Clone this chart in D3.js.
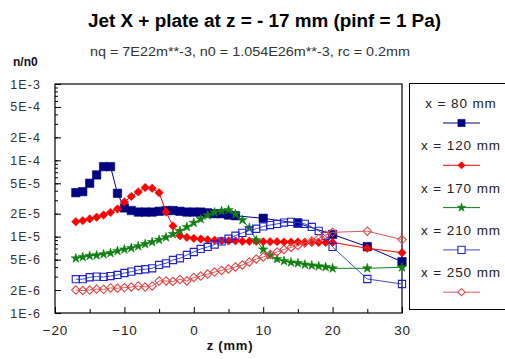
<!DOCTYPE html>
<html><head><meta charset="utf-8">
<script src="https://cdn.jsdelivr.net/npm/d3@7"></script>
<style>
html,body{margin:0;padding:0;background:#fff;}
text{font-family:"Liberation Sans",Arial,sans-serif;}
</style></head>
<body><svg id="c" width="505" height="359"></svg>
<script>
const titleText = "Jet X + plate at z = - 17 mm (pinf = 1 Pa)";
const subtitleText = "nq = 7E22m**-3, n0 = 1.054E26m**-3, rc = 0.2mm";
const yAxisTitle = "n/n0";
const xAxisTitle = "z (mm)";
const seriesNames = ["x = 80 mm","x = 120 mm","x = 170 mm","x = 210 mm","x = 250 mm"];
const yTickValues = [1e-3,5e-4,2e-4,1e-4,5e-5,2e-5,1e-5,5e-6,2e-6,1e-6];
const yTickLabels = ["1E-3","5E-4","2E-4","1E-4","5E-5","2E-5","1E-5","5E-6","2E-6","1E-6"];
const xTickValues = [-20,-10,0,10,20,30];

const zDense = [-17,-16,-15,-14,-13,-12,-11,-10,-9,-8,-7,-6,-5,-4,-3,-2,-1,0,1,2,3,4,5,6,7,8,9,10,11,12,13,14,15,16,17,18,19,20,25,30];
const z80 = [-17,-16,-15,-14,-13,-12,-11,-10,-9,-8,-7,-6,-5,-4,-3,-2,-1,0,1,2,3,4,5,6,10,15,20,25,30];

const n80 = [3.77e-5,3.89e-5,5.01e-5,6.44e-5,8.27e-5,8.27e-5,3.7e-5,2.38e-5,2.2e-5,2.1e-5,2.1e-5,2.1e-5,2.15e-5,2.2e-5,2.2e-5,2.15e-5,2.1e-5,2.1e-5,2.1e-5,2.05e-5,2.0e-5,2.0e-5,1.92e-5,1.88e-5,1.74e-5,1.5e-5,1.07e-5,7.4e-6,4.7e-6];
const n120 = [1.57e-5,1.62e-5,1.71e-5,1.80e-5,1.92e-5,2.08e-5,2.30e-5,2.85e-5,3.37e-5,3.86e-5,4.40e-5,4.30e-5,3.77e-5,2.10e-5,1.38e-5,1.03e-5,9.8e-6,9.5e-6,9.3e-6,9.1e-6,9.0e-6,8.8e-6,8.8e-6,8.8e-6,8.7e-6,8.7e-6,8.7e-6,8.6e-6,8.6e-6,8.6e-6,8.5e-6,8.5e-6,8.5e-6,8.5e-6,8.4e-6,8.4e-6,8.4e-6,8.4e-6,7.05e-6,6.17e-6];
const n170 = [5.2e-6,5.4e-6,5.6e-6,5.7e-6,5.9e-6,6.1e-6,6.5e-6,6.8e-6,7.1e-6,7.5e-6,8.0e-6,8.5e-6,9.1e-6,9.8e-6,1.08e-5,1.19e-5,1.34e-5,1.52e-5,1.7e-5,1.9e-5,2.08e-5,2.17e-5,2.24e-5,1.98e-5,1.65e-5,1.3e-5,9.0e-6,6.8e-6,5.7e-6,5.1e-6,4.8e-6,4.6e-6,4.5e-6,4.3e-6,4.2e-6,4.1e-6,4.0e-6,3.85e-6,3.85e-6,3.97e-6];
const n210 = [2.77e-6,2.77e-6,2.94e-6,3.0e-6,2.97e-6,3.05e-6,3.15e-6,3.34e-6,3.48e-6,3.66e-6,3.74e-6,3.85e-6,4.26e-6,4.48e-6,4.95e-6,5.21e-6,5.76e-6,6.3e-6,6.9e-6,7.33e-6,7.9e-6,8.65e-6,9.4e-6,1.03e-5,1.12e-5,1.2e-5,1.27e-5,1.36e-5,1.42e-5,1.47e-5,1.53e-5,1.56e-5,1.54e-5,1.47e-5,1.34e-5,1.19e-5,1.02e-5,7.33e-6,2.79e-6,2.4e-6];
const n250 = [2.0e-6,1.97e-6,2.0e-6,2.06e-6,2.04e-6,2.13e-6,2.11e-6,2.15e-6,2.19e-6,2.26e-6,2.19e-6,2.26e-6,2.63e-6,2.63e-6,2.59e-6,2.75e-6,2.63e-6,2.92e-6,3.05e-6,3.24e-6,3.44e-6,3.61e-6,3.77e-6,4.01e-6,4.26e-6,4.66e-6,5.1e-6,5.42e-6,5.84e-6,6.3e-6,6.79e-6,7.22e-6,7.67e-6,8.27e-6,8.78e-6,9.47e-6,1.05e-5,1.14e-5,1.18e-5,9.16e-6];

const series = [
  {name: seriesNames[0], z: z80, v: n80, line: "#000080", shape: "square", fill: "#000080", stroke: "#000080", r: 4.2},
  {name: seriesNames[1], z: zDense, v: n120, line: "#ff0000", shape: "diamond", fill: "#ff0000", stroke: "#ff0000", r: 4.2},
  {name: seriesNames[2], z: zDense, v: n170, line: "#108010", shape: "star", fill: "#108010", stroke: "#108010", r: 5},
  {name: seriesNames[3], z: zDense, v: n210, line: "#3a4fc0", shape: "square", fill: "none", stroke: "#2020d0", r: 3.6},
  {name: seriesNames[4], z: zDense, v: n250, line: "#d85a5a", shape: "diamond", fill: "none", stroke: "#e04848", r: 4.2}
];

const svg = d3.select("#c");
const L = 55, R = 402, T = 84, B = 313;
const x = d3.scaleLinear().domain([-20, 30]).range([L, R]);
const y = d3.scaleLog().domain([1e-6, 1e-3]).range([B, T]);

// titles
svg.append("text").attr("x", 88).attr("y", 27).attr("font-size", 17.5).attr("font-weight", "bold")
  .attr("textLength", 353).attr("lengthAdjust", "spacingAndGlyphs").attr("fill", "#000").text(titleText);
svg.append("text").attr("x", 90).attr("y", 56).attr("font-size", 13)
  .attr("textLength", 320).attr("lengthAdjust", "spacingAndGlyphs").attr("fill", "#333").text(subtitleText);
svg.append("text").attr("x", 13).attr("y", 66).attr("font-size", 12).attr("font-weight", "bold")
  .attr("fill", "#111").text(yAxisTitle);
svg.append("text").attr("x", 230).attr("y", 350).attr("font-size", 13).attr("font-weight", "bold")
  .attr("text-anchor", "middle").attr("letter-spacing", 0.8).attr("fill", "#111").text(xAxisTitle);

// plot frame
svg.append("rect").attr("x", L).attr("y", T).attr("width", R - L).attr("height", B - T)
  .attr("fill", "none").attr("stroke", "#000").attr("stroke-width", 1.2);

// y minor ticks
const minor = [];
for (let e = -6; e < -3; e++) for (let m = 1; m < 10; m++) minor.push(m * Math.pow(10, e));
const yMinor = d3.axisLeft(y).tickValues(minor).tickSize(-3).tickFormat("");
svg.append("g").attr("transform", `translate(${L},0)`).call(yMinor)
  .call(g => g.select(".domain").remove())
  .call(g => g.selectAll("line").attr("stroke", "#000"));
const yMajor = d3.axisLeft(y).tickValues(yTickValues).tickSizeInner(-6).tickSizeOuter(0).tickPadding(14)
  .tickFormat((d, i) => yTickLabels[i]);
svg.append("g").attr("transform", `translate(${L},0)`).call(yMajor)
  .call(g => g.select(".domain").remove())
  .call(g => g.selectAll("line").attr("stroke", "#000"))
  .call(g => g.selectAll("text").attr("font-size", 12.5).attr("fill", "#333").attr("letter-spacing", 1.1)
      .attr("font-family", "'Liberation Sans', Arial, sans-serif"));

// x ticks
const xMinor = d3.axisBottom(x).tickValues([-15,-5,5,15,25]).tickSize(-4).tickFormat("");
svg.append("g").attr("transform", `translate(0,${B})`).call(xMinor)
  .call(g => g.select(".domain").remove())
  .call(g => g.selectAll("line").attr("stroke", "#000"));
const xMajor = d3.axisBottom(x).tickValues(xTickValues).tickSizeInner(-6).tickSizeOuter(0).tickPadding(12)
  .tickFormat(d3.format("d"));
svg.append("g").attr("transform", `translate(0,${B})`).call(xMajor)
  .call(g => g.select(".domain").remove())
  .call(g => g.selectAll("line").attr("stroke", "#000"))
  .call(g => g.selectAll("text").attr("font-size", 13.5).attr("fill", "#222").attr("letter-spacing", 0.8)
      .attr("font-family", "'Liberation Sans', Arial, sans-serif"));

function markerPath(shape, r) {
  if (shape === "square") return `M${-r},${-r}H${r}V${r}H${-r}Z`;
  if (shape === "diamond") return `M0,${-r}L${r},0L0,${r}L${-r},0Z`;
  return d3.symbol().type(d3.symbolStar).size(r * r * 1.1)();
}

const line = d3.line().x(d => x(d[0])).y(d => y(d[1]));
series.forEach(s => {
  const pts = s.z.map((z, i) => [z, s.v[i]]);
  const g = svg.append("g");
  g.append("path").attr("d", line(pts)).attr("fill", "none").attr("stroke", s.line).attr("stroke-width", 1);
  g.selectAll("path.m").data(pts).join("path").attr("class", "m")
    .attr("transform", d => `translate(${x(d[0])},${y(d[1])})`)
    .attr("d", markerPath(s.shape, s.r))
    .attr("fill", s.fill === "none" ? "#fff" : s.fill)
    .attr("fill-opacity", s.fill === "none" ? 0 : 1)
    .attr("stroke", s.stroke).attr("stroke-width", s.fill === "none" ? 1.1 : 0.6);
});

// legend
const lg = svg.append("g");
lg.append("rect").attr("x", 409.5).attr("y", 83.5).attr("width", 110).attr("height", 226)
  .attr("fill", "#fff").attr("stroke", "#000").attr("stroke-width", 1);
series.forEach((s, i) => {
  const ty = 108 + i * 42.3;
  const sy = 123 + i * 42.3;
  lg.append("text").attr("x", 461).attr("y", ty).attr("text-anchor", "middle")
    .attr("font-size", 13.5).attr("letter-spacing", 0.9).attr("fill", "#222").text(s.name);
  lg.append("line").attr("x1", 443).attr("x2", 480).attr("y1", sy).attr("y2", sy)
    .attr("stroke", s.line).attr("stroke-width", 1);
  lg.append("path").attr("transform", `translate(461.5,${sy})`).attr("d", markerPath(s.shape, s.shape === "star" ? 4.5 : 3.6))
    .attr("fill", s.fill === "none" ? "#fff" : s.fill)
    .attr("stroke", s.stroke).attr("stroke-width", s.fill === "none" ? 1.1 : 0.6);
});
</script></body></html>
